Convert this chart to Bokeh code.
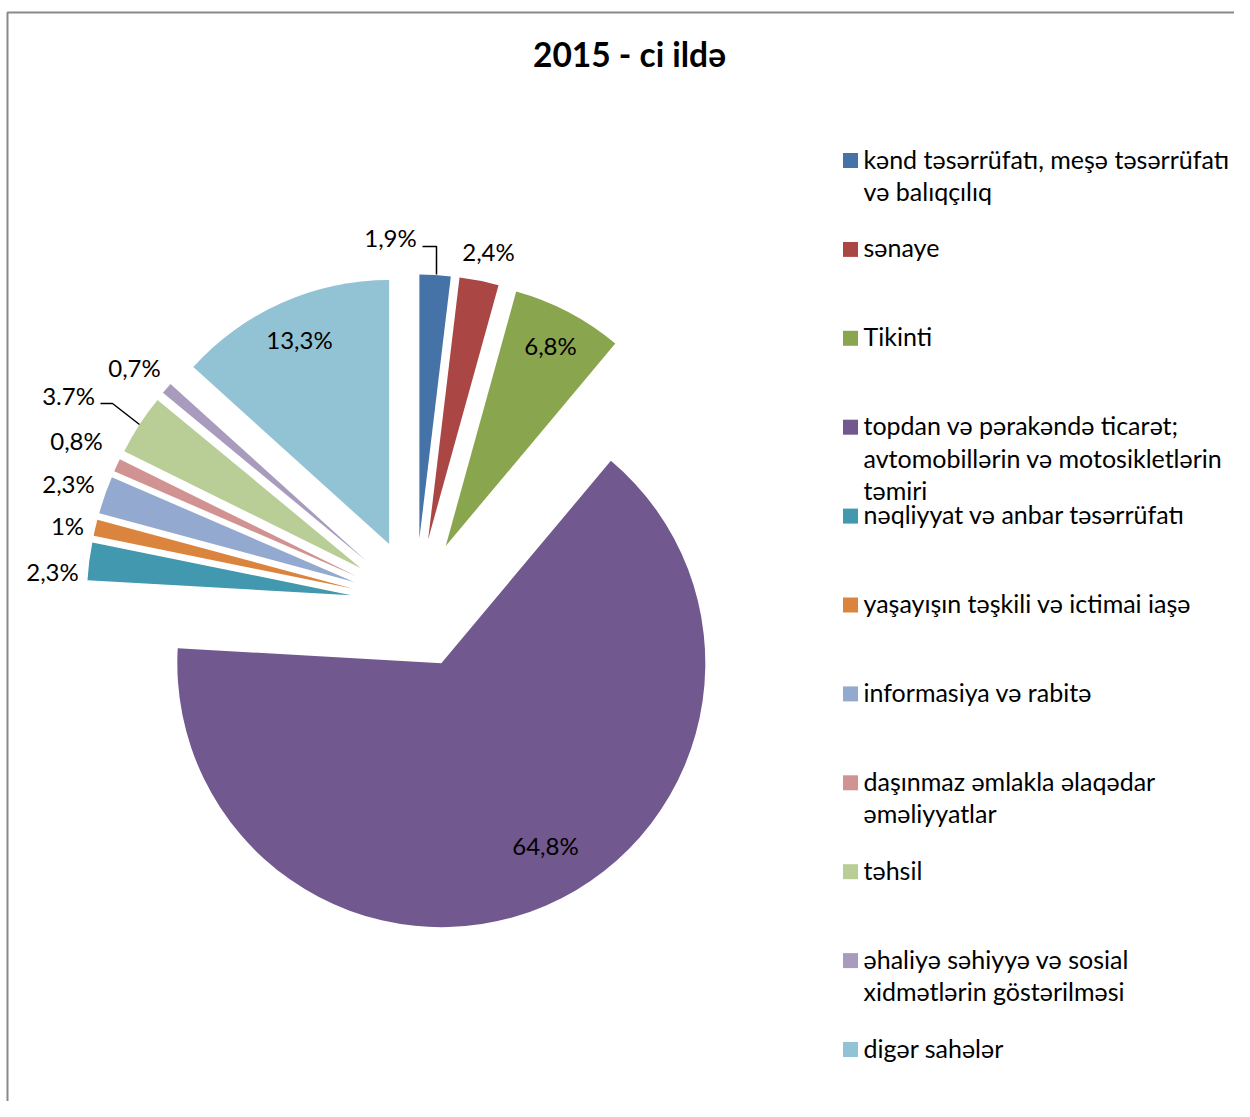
import numpy as np
from bokeh.plotting import figure
from bokeh.models import Range1d
from bokeh.core.properties import value
from bokeh.embed import file_html
from bokeh.resources import INLINE

# ---------------- data ----------------
title = "2015 - ci ildə"
categories = [
    "kənd təsərrüfatı, meşə təsərrüfatı\nvə balıqçılıq",
    "sənaye",
    "Tikinti",
    "topdan və pərakəndə ticarət;\navtomobillərin və motosikletlərin\ntəmiri",
    "nəqliyyat və anbar təsərrüfatı",
    "yaşayışın təşkili  və ictimai iaşə",
    "informasiya və rabitə",
    "daşınmaz əmlakla əlaqədar\nəməliyyatlar",
    "təhsil",
    "əhaliyə səhiyyə və sosial\nxidmətlərin  göstərilməsi",
    "digər sahələr",
]
shares = [1.9, 2.4, 6.8, 64.8, 2.3, 1.0, 2.3, 0.8, 3.7, 0.7, 13.3]
labels = ["1,9%", "2,4%", "6,8%", "64,8%", "2,3%", "1%", "2,3%", "0,8%", "3.7%", "0,7%", "13,3%"]
colors = ["#4572A7", "#AA4643", "#89A54E", "#71588F", "#4198AF", "#DB843D",
          "#93A9CF", "#D19392", "#B9CD96", "#A99BBD", "#92C3D4"]

# ---------------- layout (pixel frame of the chart) ----------------
W, H = 1234, 1101
def Y(py):  # pixel y (from top) -> data y
    return H - py

CX, CY = 415.0, Y(603.0)     # pie centre
R = 264.0                    # radius
EXPLODE = 65.0               # explosion distance
FONT = value("Lato")
TXT_DY = -2                  # small vertical correction for text baseline

# data-label anchors (pixels) and leader lines
label_pos = [(390, 239), (488, 253), (550, 347), (545, 847), (52, 573), (67, 527),
             (68, 485), (76, 442), (68, 397), (134, 369), (299, 341)]
leaders = [[(422, 246), (436, 246), (436, 274)],
           [(100, 403), (112, 403), (139, 424)]]

p = figure(width=W, height=H, x_range=Range1d(0, W), y_range=Range1d(0, H),
           x_axis_type=None, y_axis_type=None, output_backend="svg",
           toolbar_location=None, min_border=0)
p.grid.visible = False
p.outline_line_color = None
p.background_fill_color = "white"
p.border_fill_color = "white"

# chart border (left and top edges visible)
p.line([7, 7, 1300], [Y(1200), Y(12), Y(12)], line_color="#898989", line_width=2)

# ---------------- pie ----------------
v = np.array(shares, dtype=float)
frac = v / v.sum()
cum = np.concatenate([[0.0], np.cumsum(frac)[:-1]])
th0 = 2 * np.pi * cum
th1 = 2 * np.pi * (cum + frac)
thm = (th0 + th1) / 2
xs = CX + EXPLODE * np.sin(thm)
ys = CY + EXPLODE * np.cos(thm)
p.wedge(x=xs, y=ys, radius=R, start_angle=np.pi / 2 - th1, end_angle=np.pi / 2 - th0,
        direction="anticlock", fill_color=colors, line_color=None)

# data labels
p.text(x=[q[0] for q in label_pos], y=[Y(q[1] + TXT_DY) for q in label_pos], text=labels,
       text_font=FONT, text_font_size="24px", text_color="black",
       text_align="center", text_baseline="middle")
for ln in leaders:
    p.line([q[0] for q in ln], [Y(q[1]) for q in ln], line_color="black", line_width=1.5)

# title
p.text(x=[629], y=[Y(53.5)], text=[title], text_font=FONT, text_font_size="33.5px",
       text_font_style="bold", text_color="black", text_align="center", text_baseline="middle")

# ---------------- legend ----------------
LX, LY0, LSTEP, LLINE = 850, 160, 88.9, 32.5
sq_x, sq_y, tx, ty, tt = [], [], [], [], []
for i, cat in enumerate(categories):
    y0 = LY0 + i * LSTEP
    sq_x.append(LX)
    sq_y.append(Y(y0))
    for k, line in enumerate(cat.split("\n")):
        tx.append(863)
        ty.append(Y(y0 + k * LLINE + TXT_DY))
        tt.append(line)
p.rect(x=sq_x, y=sq_y, width=15, height=15, fill_color=colors, line_color=None)
p.text(x=tx, y=ty, text=tt, text_font=FONT, text_font_size="25px", text_color="black",
       text_align="left", text_baseline="middle")

open("out.html", "w").write(file_html(p, INLINE))
